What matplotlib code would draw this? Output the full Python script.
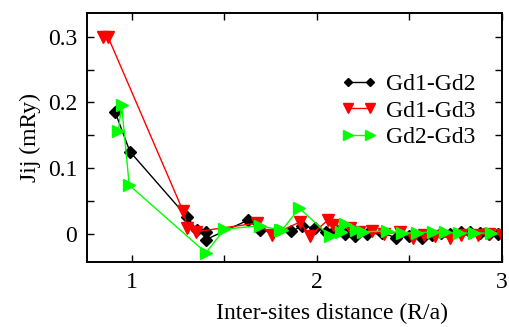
import matplotlib
matplotlib.use("Agg")
import matplotlib.pyplot as plt
from matplotlib.ticker import MultipleLocator, FuncFormatter

plt.rcParams['font.family'] = ['Liberation Serif', 'DejaVu Serif']
plt.rcParams['mathtext.fontset'] = 'stix'

# Gd1-Gd2
x_12 = [0.908, 0.989, 1.296, 1.35, 1.40, 1.40, 1.63, 1.69, 1.86, 1.92, 1.99, 2.05, 2.10, 2.15,
        2.205, 2.27, 2.35, 2.43, 2.50, 2.57, 2.62, 2.67, 2.72, 2.78, 2.83, 2.88, 2.93, 2.98]
y_12 = [0.186, 0.125, 0.026, 0.006, 0.003, -0.009, 0.021, 0.006, 0.004, 0.011, 0.009, 0.003, 0.005, 0.000,
        -0.004, -0.001, 0.001, -0.006, -0.003, -0.006, -0.002, 0.001, -0.001, 0.002, 0.002, 0.001, 0.000, 0.000]

# Gd1-Gd3
x_13 = [0.842, 0.87, 1.277, 1.30, 1.344, 1.674, 1.755, 1.91, 1.96, 2.06, 2.087, 2.18, 2.23, 2.30,
        2.36, 2.45, 2.52, 2.58, 2.64, 2.72, 2.78, 2.87, 2.93, 3.00]
y_13 = [0.300, 0.300, 0.034, 0.009, 0.003, 0.016, -0.002, 0.018, -0.004, 0.021, 0.014, 0.009, 0.002, 0.004,
        -0.001, 0.003, -0.006, -0.002, -0.004, -0.006, -0.002, -0.002, 0.000, -0.002]

# Gd2-Gd3
x_23 = [0.926, 0.944, 0.985, 1.40, 1.50, 1.69, 1.80, 1.81, 1.905, 2.07, 2.13, 2.15, 2.21, 2.25,
        2.38, 2.46, 2.54, 2.63, 2.69, 2.77, 2.85, 2.94]
y_23 = [0.156, 0.196, 0.074, -0.029, 0.007, 0.012, 0.006, 0.005, 0.039, -0.004, 0.002, 0.015, 0.006, 0.003,
        0.004, 0.001, 0.001, 0.003, 0.002, 0.001, 0.001, 0.001]

labels = ['Gd1-Gd2', 'Gd1-Gd3', 'Gd2-Gd3']

FS = 17

fig = plt.figure(figsize=(5.09, 3.27), dpi=100)
ax = fig.add_axes([0.171, 0.199, 0.815, 0.761])

ax.plot(x_12, y_12, color='black', marker='D', ms=6, lw=1.0, label=labels[0])
ax.plot(x_13, y_13, color='#ff0000', marker='v', ms=9, lw=1.0, label=labels[1])
ax.plot(x_23, y_23, color='#00ff00', marker='>', ms=9, lw=1.0, label=labels[2])

ax.set_xlim(0.757, 3.0)
ax.set_ylim(-0.043, 0.336)
ax.xaxis.set_major_locator(MultipleLocator(1))
ax.xaxis.set_minor_locator(MultipleLocator(0.5))
ax.yaxis.set_major_locator(MultipleLocator(0.1))
ax.yaxis.set_minor_locator(MultipleLocator(0.05))
ax.yaxis.set_major_formatter(FuncFormatter(lambda v, p: '0' if abs(v) < 1e-9 else f'{v:.1f}'))
ax.tick_params(which='both', direction='in', top=True, right=True, length=5, width=1,
               labelsize=FS, pad=7)
for s in ax.spines.values():
    s.set_linewidth(1.4)

ax.set_ylabel('Jij (mRy)', fontsize=FS, labelpad=5)
ax.set_xlabel('Inter-sites distance (R/a)', fontsize=FS)
ax.xaxis.set_label_coords(0.59, -0.165)

leg = ax.legend(loc='upper right', bbox_to_anchor=(0.958, 0.794), frameon=False, fontsize=FS,
                numpoints=2, markerscale=0.75,
                handlelength=1.53, handletextpad=0.35, labelspacing=0.2, borderaxespad=0)

fig.savefig('out.png', dpi=100)
